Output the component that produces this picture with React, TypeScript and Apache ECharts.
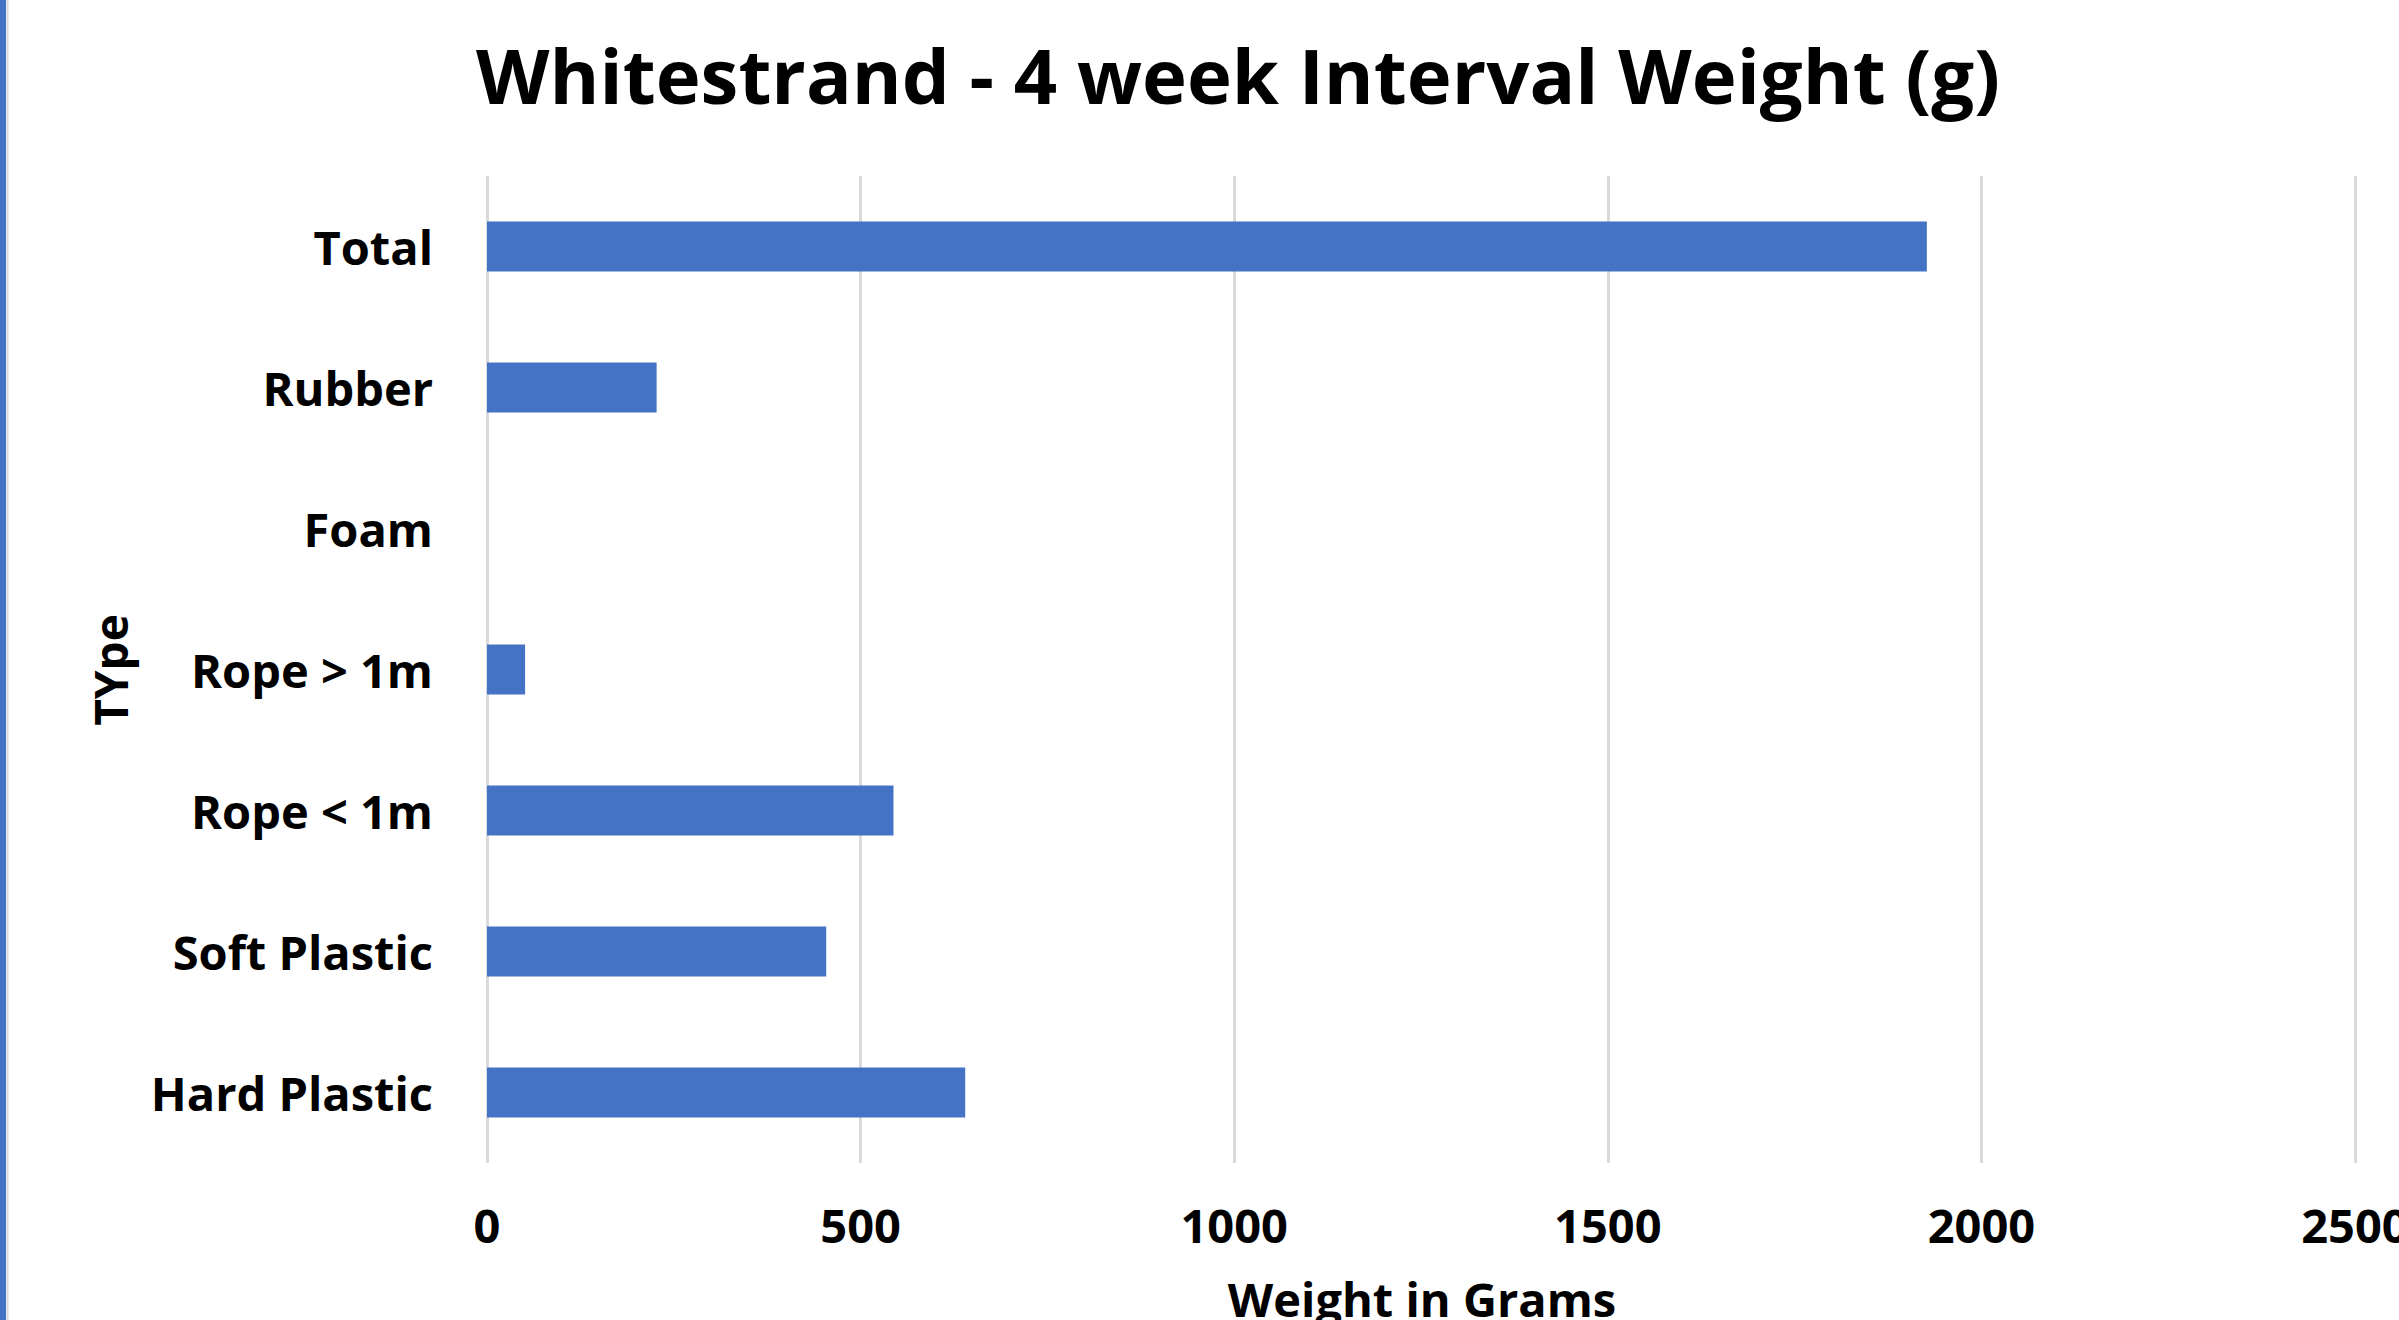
import React, { useEffect, useRef } from "react";
import * as echarts from "echarts";

const categories = ["Total", "Rubber", "Foam", "Rope > 1m", "Rope < 1m", "Soft Plastic", "Hard Plastic"];
const weights = [1927, 227, 0, 51, 544, 454, 640];
const xTicks = { min: 0, max: 2500, interval: 500 };
const titleText = "Whitestrand - 4 week Interval Weight (g)";
const xName = "Weight in Grams";
const yName = "TYpe";

const FONT = "Open Sans";
const BLUE = "#4472C4";

export default function App() {
  const ref = useRef<HTMLDivElement>(null);
  useEffect(() => {
    if (!ref.current) return;
    const chart = echarts.init(ref.current, null, { renderer: "svg" });
    chart.setOption({
      animation: false,
      backgroundColor: "#ffffff",
      textStyle: { fontFamily: FONT },
      grid: {
        left: 487,
        right: 44,
        top: 176,
        bottom: 157,
        containLabel: false,
        outerBoundsMode: "none",
      },
      xAxis: {
        type: "value",
        min: xTicks.min,
        max: xTicks.max,
        interval: xTicks.interval,
        axisLine: { show: false },
        axisTick: { show: false },
        splitLine: { show: true, lineStyle: { color: "#d9d9d9", width: 3 } },
        axisLabel: {
          margin: 38,
          fontFamily: FONT,
          fontWeight: "bold",
          fontSize: 47,
          lineHeight: 47,
          color: "#000000",
          formatter: (v: number) => String(v),
        },
      },
      yAxis: {
        type: "category",
        inverse: true,
        data: categories,
        axisLine: { show: false },
        axisTick: { show: false },
        splitLine: { show: false },
        axisLabel: {
          margin: 54,
          fontFamily: FONT,
          fontWeight: "bold",
          fontSize: 47,
          color: "#000000",
        },
      },
      series: [
        {
          type: "bar",
          data: weights,
          barWidth: 50,
          itemStyle: { color: BLUE },
        },
      ],
      graphic: [
        { type: "rect", left: 0, top: 0, shape: { x: 0, y: 0, width: 6, height: 1320 }, style: { fill: BLUE } },
        { type: "line", shape: { x1: 7.5, y1: 0, x2: 7.5, y2: 1320 }, style: { stroke: "#d9d9d9", lineWidth: 2 } },
        {
          type: "text",
          x: 1238,
          y: 74,
          style: {
            text: titleText,
            fontFamily: FONT,
            fontWeight: "bold",
            fontSize: 76,
            fill: "#000000",
            align: "center",
            verticalAlign: "middle",
          },
        },
        {
          type: "text",
          x: 1422,
          y: 1299,
          style: {
            text: xName,
            fontFamily: FONT,
            fontWeight: "bold",
            fontSize: 47,
            fill: "#000000",
            align: "center",
            verticalAlign: "middle",
          },
        },
        {
          type: "text",
          x: 110,
          y: 670,
          rotation: Math.PI / 2,
          style: {
            text: yName,
            fontFamily: FONT,
            fontWeight: "bold",
            fontSize: 46,
            fill: "#000000",
            align: "center",
            verticalAlign: "middle",
          },
        },
      ],
    });
    return () => chart.dispose();
  }, []);
  return (
    <div
      ref={ref}
      style={{ position: "fixed", left: 0, top: 0, width: 2399, height: 1320 }}
    />
  );
}
